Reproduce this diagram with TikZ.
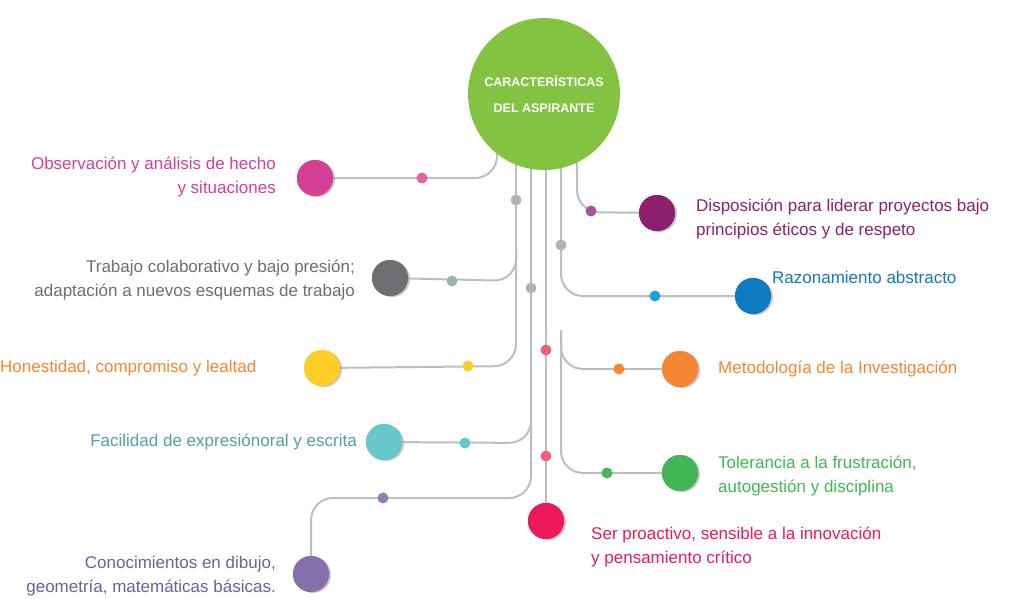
\documentclass[tikz,border=0pt]{standalone}
\usepackage{fontspec}
\setmainfont{Liberation Sans}
\usetikzlibrary{shadows}
\definecolor{cObs}{HTML}{D63F96}
\definecolor{cTra}{HTML}{6D6E71}
\definecolor{cHon}{HTML}{FFCD28}
\definecolor{cFac}{HTML}{66C8CC}
\definecolor{cCon}{HTML}{8670AC}
\definecolor{cDis}{HTML}{8C1F6E}
\definecolor{cRaz}{HTML}{0E7AC0}
\definecolor{cMet}{HTML}{F58634}
\definecolor{cTol}{HTML}{42B655}
\definecolor{cSer}{HTML}{EC1A5A}
\definecolor{cMain}{HTML}{84C341}
\definecolor{cLine}{HTML}{BCBEC0}
\tikzset{
  big/.style={circle, fill=#1, minimum size=36pt, inner sep=0pt,
    drop shadow={opacity=0.25, shadow xshift=2pt, shadow yshift=-1pt}},
  dot/.style={circle, fill=#1, minimum size=11pt, inner sep=0pt},
  wire/.style={draw=cLine, line width=2pt, rounded corners=22pt},
  lbl/.style={font=\fontsize{17}{24}\selectfont, inner sep=0pt}
}
\begin{document}
\begin{tikzpicture}[x=1pt,y=-1pt]
    \useasboundingbox (0,0) rectangle (1019,599);
    % circles
    \node[big=cObs] (obs) at (315,178) {};
    \node[big=cTra] (tra) at (390,278) {};
    \node[big=cHon] (hon) at (322,368) {};
    \node[big=cFac] (fac) at (384,442) {};
    \node[big=cCon] (con) at (311,574) {};
    \node[big=cDis] (dis) at (657,213) {};
    \node[big=cRaz] (raz) at (753,296) {};
    \node[big=cMet] (met) at (680,369) {};
    \node[big=cTol] (tol) at (680,473) {};
    \node[big=cSer] (ser) at (546,521) {};
    % wires
    \begin{scope}[on background layer/.style={}]
    \draw[wire] (obs) -- (497,178) -- (497,140);
    \draw[wire] (tra) -- (516,281) -- (516,250);
    \draw[wire] (hon) -- (516,366) -- (516,150);
    \draw[wire] (fac) -- (531,443) -- (531,420);
    \draw[wire] (con) -- (311,498) -- (531,498) -- (531,150);
    \draw[wire] (ser) -- (546,150);
    \draw[wire] (dis) -- (577,212) -- (577,150);
    \draw[wire] (raz) -- (561,296) -- (561,150);
    \draw[wire] (met) -- (561,369) -- (561,330);
    \draw[wire] (tol) -- (561,473) -- (561,330);
    \end{scope}
    \node[big=cObs] at (obs) {};
    \node[big=cTra] at (tra) {};
    \node[big=cHon] at (hon) {};
    \node[big=cFac] at (fac) {};
    \node[big=cCon] at (con) {};
    \node[big=cDis] at (dis) {};
    \node[big=cRaz] at (raz) {};
    \node[big=cMet] at (met) {};
    \node[big=cTol] at (tol) {};
    \node[big=cSer] at (ser) {};
    % dots
    \foreach \c/\x/\y in {E85FA0/422/178, 9BB2B1/452/281, FFCD28/468/366,
        66C8CC/465/443, 9878B8/383/498, A551A0/591/211, 12A5E0/655/296,
        F58634/619/369, 42B655/607/473, EE5F7A/546/350, EE5F7A/546/456,
        B1B3B4/516/200, B1B3B4/561/245, B1B3B4/531/288} {
        \definecolor{dc}{HTML}{\c}
        \node[dot=dc] at (\x,\y) {};
    }
    % centre
    \node[circle, fill=cMain, minimum size=152pt, inner sep=0pt,
        font=\fontsize{12.5}{26}\selectfont\bfseries, text=white, align=center]
        (main) at (544,94) {CARACTERÍSTICAS\\DEL ASPIRANTE};
    % labels
    \node[lbl, text=cObs, align=right, anchor=east] (tObs) at (276,177) {Observación y análisis de hecho\\y situaciones};
    \node[lbl, text=cTra, align=right, anchor=east] (tTra) at (355,280) {Trabajo colaborativo y bajo presión;\\adaptación a nuevos esquemas de trabajo};
    \node[lbl, text=cMet, anchor=west] (tHon) at (0,368) {Honestidad, compromiso y lealtad};
    \node[lbl, text=cFac!80!black, anchor=east] (tFac) at (357,442) {Facilidad de expresiónoral y escrita};
    \node[lbl, text=cCon!85!black, align=right, anchor=east] (tCon) at (276,576) {Conocimientos en dibujo,\\geometría, matemáticas básicas.};
    \node[lbl, text=cDis, align=left, anchor=west] (tDis) at (696,219) {Disposición para liderar proyectos bajo\\principios éticos y de respeto};
    \node[lbl, text=cRaz, anchor=west] (tRaz) at (772,277) {Razonamiento abstracto};
    \node[lbl, text=cMet, anchor=west] (tMet) at (718,369) {Metodología de la Investigación};
    \node[lbl, text=cTol, align=left, anchor=west] (tTol) at (718,476) {Tolerancia a la frustración,\\autogestión y disciplina};
    \node[lbl, text=cSer, align=left, anchor=west] (tSer) at (591,547) {Ser proactivo, sensible a la innovación\\y pensamiento crítico};
\end{tikzpicture}
\end{document}
